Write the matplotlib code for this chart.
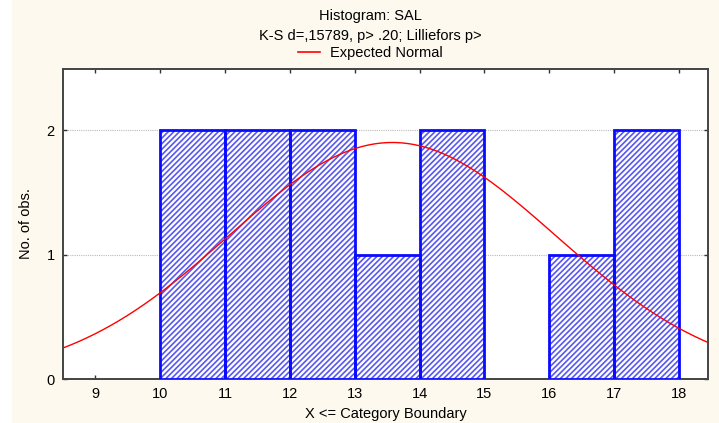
import numpy as np
import matplotlib
matplotlib.use("Agg")
import matplotlib.pyplot as plt
from matplotlib.patches import Rectangle

# ---- data ----
bin_left = [9, 10, 11, 12, 13, 14, 15, 16, 17]
counts = [0, 2, 2, 2, 1, 2, 0, 1, 2]
xticks = [9, 10, 11, 12, 13, 14, 15, 16, 17, 18]
yticks = [0, 1, 2]
# expected normal parameters (fitted)
n_obs = 12
mean_val = 13.58
sd_val = 2.52
bin_width = 1.0

title1 = "Histogram: SAL"
title2 = "K-S d=,15789, p> .20; Lilliefors p>"
legend_text = "Expected Normal"

plt.rcParams['font.family'] = ['Liberation Sans', 'DejaVu Sans']
plt.rcParams['hatch.linewidth'] = 1.2

cream = "#FDF9EF"
fig = plt.figure(figsize=(7.19, 4.23), dpi=100, facecolor=cream)
fig.patches.append(Rectangle((0, 0), 12/719, 1, transform=fig.transFigure,
                             facecolor="white", edgecolor="none", zorder=0))

ax = fig.add_axes([63/719, 1-379/423, (708-63)/719, (379-69)/423])
ax.set_facecolor("white")

nz_left = [b for b, c in zip(bin_left, counts) if c > 0]
nz_counts = [c for c in counts if c > 0]
# hatch layer (lighter blue)
ax.bar(nz_left, nz_counts, width=bin_width, align='edge', facecolor='white',
       edgecolor='#5858F2', linewidth=0, hatch='//////', zorder=3)
# outline layer
ax.bar(nz_left, nz_counts, width=bin_width, align='edge', facecolor='none',
       edgecolor='#0A0AFF', linewidth=2.0, zorder=3.5)

xs = np.linspace(8.5, 18.45, 400)
ys = n_obs * bin_width / (sd_val * np.sqrt(2*np.pi)) * np.exp(-0.5*((xs-mean_val)/sd_val)**2)
ax.plot(xs, ys, color='#FF0000', linewidth=1.0, zorder=4)

ax.set_xlim(8.5, 18.45)
ax.set_ylim(0, 2.49)
ax.set_xticks(xticks)
ax.set_yticks(yticks)
ax.yaxis.grid(True, color='#BBBBBB', linestyle=(0, (1, 1)), linewidth=0.8, zorder=0)
ax.set_axisbelow(True)
ax.tick_params(direction='in', length=3, width=1, color='#333333',
               top=True, right=True, labelsize=10.5, pad=6)
for s in ax.spines.values():
    s.set_color('#444444')
    s.set_linewidth(1.4)

ax.set_xlabel("X <= Category Boundary", fontsize=10.5, labelpad=4)
ax.set_ylabel("No. of obs.", fontsize=10.5, labelpad=10)

fig.text(370/719, 1-16/423, title1, ha='center', va='center', fontsize=10.5)
fig.text(370/719, 1-36/423, title2, ha='center', va='center', fontsize=10.5)
fig.lines.append(plt.Line2D([298/719, 320/719], [1-52/423, 1-52/423],
                            transform=fig.transFigure, color='#FF0000', linewidth=1.2))
fig.text(330/719, 1-53/423, legend_text, ha='left', va='center', fontsize=10.5)

fig.savefig("out.png", dpi=100, facecolor=cream)
